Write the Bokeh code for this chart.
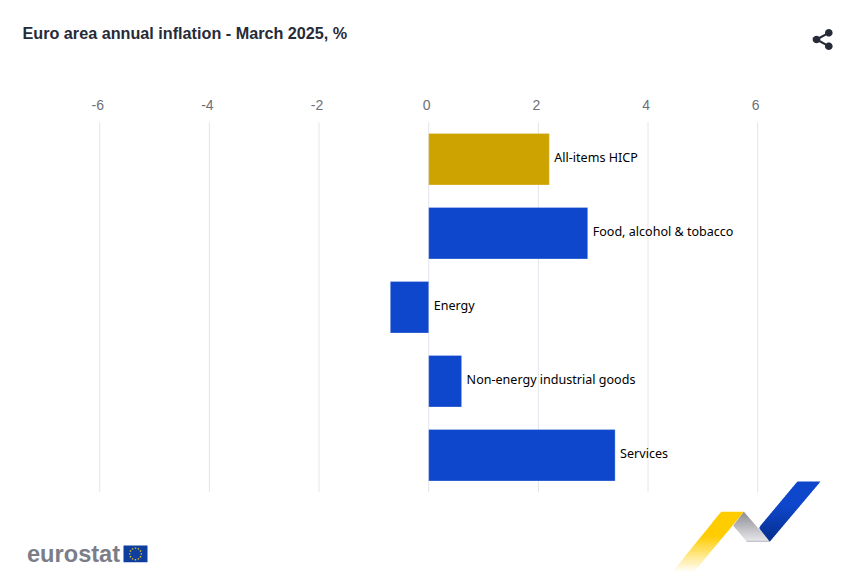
import math
from bokeh.plotting import figure
from bokeh.core.properties import value
from bokeh.models import ColumnDataSource, Range1d, PolyAnnotation, Label
from bokeh.embed import file_html
from bokeh.resources import INLINE

categories = ["All-items HICP", "Food, alcohol & tobacco", "Energy",
              "Non-energy industrial goods", "Services"]
values = [2.2, 2.9, -0.7, 0.6, 3.4]
bar_colors = ["#CCA300", "#0E47CB", "#0E47CB", "#0E47CB", "#0E47CB"]
ticks = [-6, -4, -2, 0, 2, 4, 6]
tick_labels = ["-6", "-4", "-2", "0", "2", "4", "6"]
title_text = "Euro area annual inflation - March 2025, %"

W, H = 856, 579
PX = 54.83            # pixels per percentage point
ZERO = 428.2          # canvas x of the zero line
ROW = 74              # pixels per category row
ROW0 = 158.7          # canvas y of first row centre

rows = list(range(len(categories)))
xr = Range1d(-ZERO / PX, (W - ZERO) / PX)
yr = Range1d((H - ROW0) / ROW, -ROW0 / ROW)
p = figure(width=W, height=H, output_backend="svg", toolbar_location=None,
           x_range=xr, y_range=yr, x_axis_location=None, y_axis_location=None,
           min_border=0)
p.outline_line_color = None
p.background_fill_color = "white"
p.border_fill_color = "white"
p.grid.visible = False

top_edge = rows[0] - 0.5
bottom_edge = rows[-1] + 0.5
p.segment(x0=ticks, x1=ticks, y0=[top_edge] * len(ticks), y1=[bottom_edge] * len(ticks),
          line_color="#E4E4EE", line_width=1)
p.text(x=ticks, y=[top_edge] * len(ticks), text=tick_labels, x_offset=-2, y_offset=-17,
       text_align="center", text_baseline="middle", text_font=value("Liberation Sans"),
       text_font_size="14px", text_color="#6E6E78")

src = ColumnDataSource(dict(row=rows, cat=categories, val=values, col=bar_colors,
                            anchor=[max(v, 0) for v in values]))
p.hbar(y="row", left=0, right="val", height=0.695, fill_color="col",
       line_color="white", line_alpha=0.25, line_width=1, source=src)
p.text(x="anchor", y="row", text="cat", source=src, x_offset=5, y_offset=-2, text_baseline="middle",
       text_font=value("Noto Sans"), text_font_size="12.55px", text_color="#000000")

p.add_layout(Label(x=22, y=32, x_units="canvas", y_units="canvas", text=title_text,
                   text_font="Liberation Sans", text_font_size="16.2px", text_font_style="bold",
                   text_color="#262B38", text_baseline="middle"))


def poly(xs, ys, color, alpha=1.0):
    p.add_layout(PolyAnnotation(xs=list(xs), ys=list(ys),
                                xs_units="canvas", ys_units="canvas",
                                fill_color=color, fill_alpha=alpha, line_color=None,
                                level="annotation", editable=False))


def lerp(a, b, t):
    return a + (b - a) * t


def mix(c1, c2, t):
    return "#%02x%02x%02x" % tuple(round(lerp(a, b, t)) for a, b in zip(c1, c2))


def edge_x(path, y):
    for (x0, y0), (x1, y1) in zip(path, path[1:]):
        if y <= y1:
            return lerp(x0, x1, (y - y0) / (y1 - y0))
    return path[-1][0]


def band(left, right, color_at, n=30):
    """Shape between two polylines, shaded from top to bottom in thin slices."""
    top, bot = left[0][1], left[-1][1]
    for i in range(n):
        y0 = lerp(top, bot, i / n)
        y1 = lerp(top, bot, min(1, (i + 1.5) / n))
        poly([edge_x(left, y0), edge_x(right, y0), edge_x(right, y1), edge_x(left, y1)],
             [y0, y0, y1, y1], color_at((i + 0.5) / n))


BLUE_A, BLUE_B = (14, 71, 203), (6, 46, 140)
GOLD, WHITE = (255, 204, 0), (255, 255, 255)
GREY_A, GREY_B = (140, 140, 146), (232, 232, 236)

# ribbon: grey fold, then blue and yellow strips
band([(743.3, 511.3), (732.7, 525), (746, 541)], [(743.3, 511.3), (769.3, 541)],
     lambda t: mix(GREY_A, GREY_B, t))
poly([746, 769.3, 769.3, 746], [540.3, 540.3, 541.3, 541.3], "#B4B8C0")
band([(797, 481), (758.3, 527.3), (769.3, 541)], [(820, 481), (769.3, 541)],
     lambda t: mix(BLUE_A, BLUE_B, max(0, (t - 0.4) / 0.6)))
band([(720.7, 511.3), (671.7, 571.7)], [(743.3, 511.3), (693.3, 571.7)],
     lambda t: mix(GOLD, WHITE, max(0, (t - 0.4) / 0.6)))

# share icon
for x0, y0, r in [(816, 39, 3.8), (828.3, 32.3, 3.8), (828.3, 45.7, 3.8)]:
    pts = [(x0 + r * math.cos(a / 20 * 2 * math.pi), y0 + r * math.sin(a / 20 * 2 * math.pi))
           for a in range(20)]
    poly([q[0] for q in pts], [q[1] for q in pts], "#262B38")
poly([815.5, 827.8, 828.8, 816.5], [38, 31.4, 33.2, 39.9], "#262B38")
poly([816.5, 828.8, 827.8, 815.5], [38, 44.8, 46.6, 39.9], "#262B38")

# eurostat logo
poly([123, 147, 147, 123], [545, 545, 561.8, 561.8], "#0E3F9E")
for a in range(12):
    th = a / 12 * 2 * math.pi
    x0, y0 = 135 + 5.8 * math.cos(th), 553.4 + 5.8 * math.sin(th)
    poly([x0 - .7, x0 + .7, x0 + .7, x0 - .7], [y0 - .7, y0 - .7, y0 + .7, y0 + .7], "#E8C21A")

p.add_layout(Label(x=26.5, y=553, x_units="canvas", y_units="canvas", text="eurostat",
                   text_font="Liberation Sans", text_font_style="bold", text_font_size="23.6px",
                   text_color="#7B7D88", text_baseline="alphabetic"))

open("out.html", "w").write(file_html(p, INLINE))
